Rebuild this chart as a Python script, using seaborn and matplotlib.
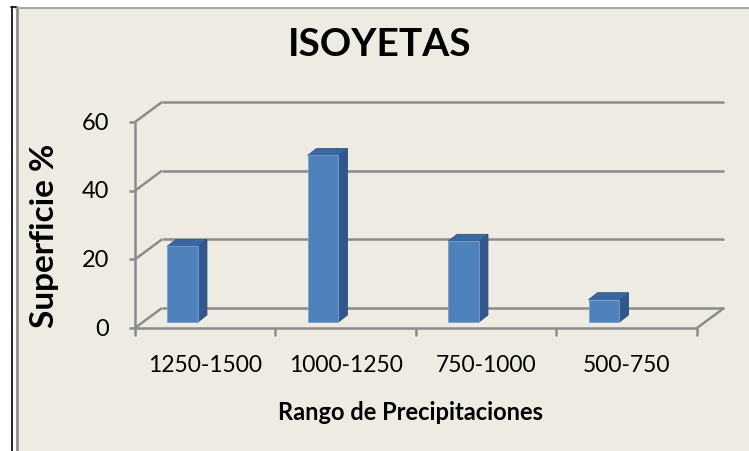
import numpy as np
import matplotlib
matplotlib.use("Agg")
import matplotlib.pyplot as plt
from matplotlib.patches import Polygon, Rectangle
from matplotlib.transforms import IdentityTransform, Affine2D
import seaborn as sns

# data
categories = ["1250-1500", "1000-1250", "750-1000", "500-750"]
superficie = [22, 48.5, 23.5, 6.5]
y_ticks = [0, 20, 40, 60]

W, H = 749, 452
sns.set_style("white")
plt.rcParams["font.family"] = ["Lato", "DejaVu Sans"]

fig = plt.figure(figsize=(W / 100, H / 100), dpi=100, facecolor="white")

def fx(px):
    return px / W

def fy(py):
    return 1 - py / H

# chart area background + borders (behind the axes)
fig.patches.append(Rectangle((fx(16), 0), 1 - fx(16), fy(8), transform=fig.transFigure,
                             facecolor="#EEECE2", edgecolor="none", zorder=-10))
for xs, ys, c, lw in [([fx(16.5), fx(16.5)], [0, fy(8)], "#8F8F8F", 2),
                      ([fx(16), 1], [fy(8.5), fy(8.5)], "#A8A8A8", 1.5),
                      ([fx(11.5), fx(11.5)], [0, fy(8)], "black", 1.2),
                      ([fx(11), fx(16)], [fy(8), fy(8)], "black", 1.2)]:
    fig.lines.append(plt.Line2D(xs, ys, transform=fig.transFigure, color=c, lw=lw, zorder=-5))

# front plane of the plot: x 135..697 px, y 329 (0) .. 123 (60)
ax = fig.add_axes([fx(135), fy(329), fx(697) - fx(135), fy(123) - fy(329)])
ax.patch.set_alpha(0)
ax.set_zorder(1)

sns.barplot(x=categories, y=superficie, color="#4F81BD", saturation=1, width=0.22, ax=ax,
            edgecolor="#7AA0D0", linewidth=0.6, zorder=5)

xmin, xmax = -0.338, 3.662
ax.set_xlim(xmin, xmax)
ax.set_ylim(0, 60)
ax.set_xticks([])
ax.set_yticks([])
ax.set_xlabel("")
ax.set_ylabel("")
for s in ax.spines.values():
    s.set_visible(False)

fig.canvas.draw()
ident = IdentityTransform()

def px(x, y):
    return ax.transData.transform((x, y))

grid_c = "#8C8C8C"
back = np.array([27, 20])     # wall depth in pixels
lift = np.array([0, 6])       # bars sit a bit behind the front edge
bdep = np.array([9, 7])       # depth of each bar

def seg(p, q):
    p, q = np.asarray(p), np.asarray(q)
    ax.add_line(plt.Line2D([p[0], q[0]], [p[1], q[1]], transform=ident, color=grid_c,
                           lw=1.8, solid_capstyle="butt", zorder=1, clip_on=False))

# walls, gridlines, axes
for v in y_ticks:
    f0 = px(xmin, v)
    seg(f0, f0 + back)
    seg(f0 + back, px(xmax, v) + back)
    seg(f0, f0 - np.array([6, 0]))
seg(px(xmin, 0), px(xmin, 60))
seg(px(xmin, 0), px(xmax, 0))
seg(px(xmax, 0), px(xmax, 0) + back)
for k in range(len(categories) + 1):
    p = px(xmin + k, 0)
    seg(p, p - np.array([0, 8]))

# 3D sides/tops for the bars
for bar in ax.patches:
    x0, w, h = bar.get_x(), bar.get_width(), bar.get_height()
    br, tl, tr = px(x0 + w, 0) + lift, px(x0, h) + lift, px(x0 + w, h) + lift
    bar.set_transform(ax.transData + Affine2D().translate(*lift))
    side = Polygon([br, tr, tr + bdep, br + bdep], closed=True, transform=ident,
                   facecolor="#30588C", edgecolor="#2A4D79", lw=0.6, zorder=4)
    top = Polygon([tl, tr, tr + bdep, tl + bdep], closed=True, transform=ident,
                  facecolor="#3B67A0", edgecolor="#30588C", lw=0.6, zorder=4)
    ax.add_patch(side)
    ax.add_patch(top)

# tick labels
for v in y_ticks:
    p = px(xmin, v)
    fig.text(fx(109), p[1] / H, str(v), ha="right", va="center", fontsize=17, color="black")
for i, c in enumerate(categories):
    p = px(i + 0.162, 0)
    fig.text(p[0] / W, fy(366), c, ha="center", va="center", fontsize=16.5, color="black")

fig.text(fx(380), fy(45), "ISOYETAS", ha="center", va="center", fontsize=28, fontweight="bold",
         color="black")
fig.text(fx(45), fy(236), "Superficie %", ha="center", va="center", rotation=90,
         fontsize=24, fontweight="bold", color="black")
fig.text(fx(410), fy(413), "Rango de Precipitaciones", ha="center", va="center",
         fontsize=17, fontweight="bold", color="black")

fig.savefig("out.png", dpi=100, facecolor="white")
